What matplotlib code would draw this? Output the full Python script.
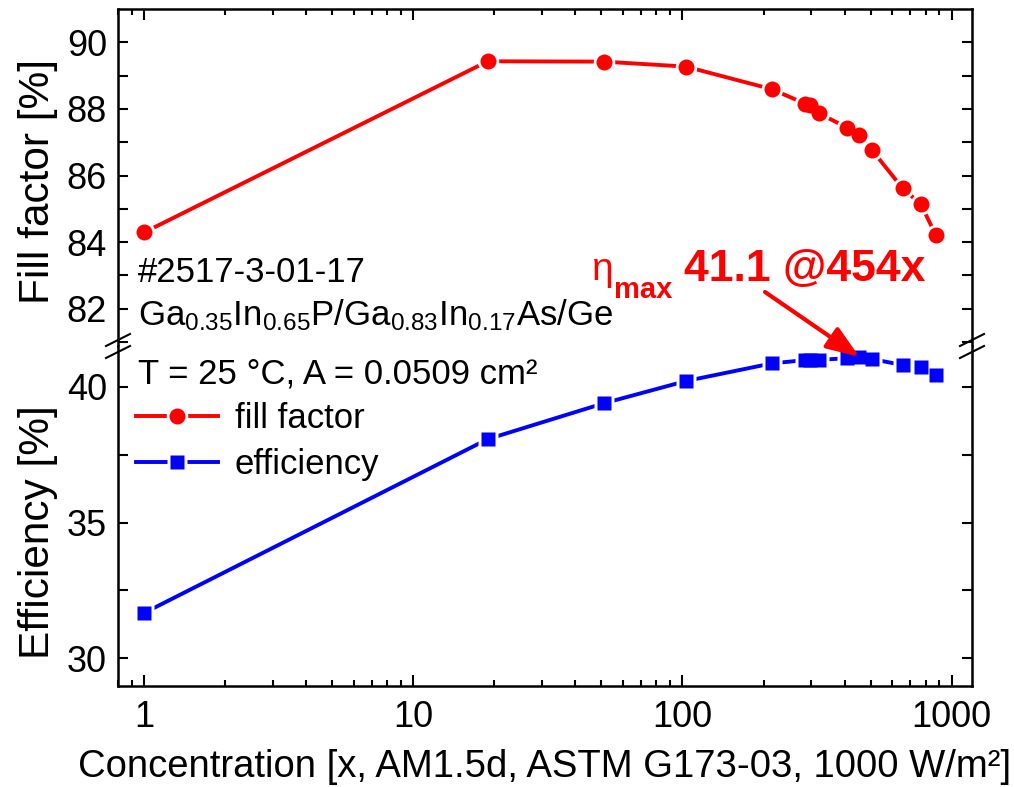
import matplotlib
matplotlib.use('Agg')
import matplotlib.pyplot as plt
from matplotlib.lines import Line2D
from matplotlib.legend_handler import HandlerTuple
from matplotlib.ticker import FixedLocator, NullFormatter, LogLocator

# ---------------- data ----------------
concentration = [1, 18.9, 51, 103, 215, 285, 297, 321, 408, 454, 505, 658, 768, 873]
fill_factor = [84.29, 89.43, 89.42, 89.27, 88.59, 88.16, 88.12, 87.87, 87.44,
               87.22, 86.77, 85.61, 85.14, 84.21]
efficiency = [31.67, 38.07, 39.39, 40.21, 40.86, 40.98, 40.99, 40.99, 41.05,
              41.10, 41.02, 40.80, 40.71, 40.43]
x_ticks = [1, 10, 100, 1000]
x_ticklabels = ["1", "10", "100", "1000"]
ff_ticks = [82, 84, 86, 88, 90]
eff_ticks = [30, 35, 40]
eta_max_conc = 454
eta_max_val = 41.1

RED = '#FF0000'
BLUE = '#0000FF'

plt.rcParams['font.family'] = ['Liberation Sans', 'DejaVu Sans']
plt.rcParams['mathtext.fontset'] = 'custom'
plt.rcParams['mathtext.rm'] = 'Liberation Sans'
plt.rcParams['mathtext.it'] = 'Liberation Sans:italic'
plt.rcParams['mathtext.bf'] = 'Liberation Sans:bold'

W, H = 1014, 787
fig = plt.figure(figsize=(W / 100, H / 100), dpi=100)

L, R = 118, 972
TOP, JUNC, BOT = 9, 346, 686

ax1 = fig.add_axes([L / W, 1 - JUNC / H, (R - L) / W, (JUNC - TOP) / H])
ax2 = fig.add_axes([L / W, 1 - BOT / H, (R - L) / W, (BOT - JUNC) / H], sharex=ax1)

FS = 25
LW = 2.8

# fill factor
l1, = ax1.plot(concentration, fill_factor, '-', color=RED, lw=LW, zorder=2)
h1, = ax1.plot(concentration, fill_factor, 'o', ls='none', ms=15.5, color='white', mec='none', zorder=3)
m1, = ax1.plot(concentration, fill_factor, 'o', ls='none', ms=11.5, color=RED, mec='none', zorder=4)

# efficiency
l2, = ax2.plot(concentration, efficiency, '-', color=BLUE, lw=LW, zorder=2)
h2, = ax2.plot(concentration, efficiency, 's', ls='none', ms=14.5, color='white', mec='none', zorder=3)
m2, = ax2.plot(concentration, efficiency, 's', ls='none', ms=10.5, color=BLUE, mec='none', zorder=4)

ax1.set_xscale('log')
ax1.set_xlim(0.80, 1190)
ax1.set_ylim(80.88, 91.0)
ax2.set_ylim(28.98, 41.50)

for ax in (ax1, ax2):
    for s in ax.spines.values():
        s.set_linewidth(1.8)
    ax.xaxis.set_major_locator(FixedLocator(x_ticks))
    ax.xaxis.set_minor_locator(LogLocator(base=10, subs=range(2, 10)))
    ax.xaxis.set_minor_formatter(NullFormatter())
    ax.tick_params(which='both', direction='in', width=1.5, labelsize=26)
    ax.tick_params(axis='x', which='major', length=8)
    ax.tick_params(axis='x', which='minor', length=4.5)
    ax.tick_params(axis='y', which='both', length=7, pad=8)

ax1.spines['bottom'].set_visible(False)
ax2.spines['top'].set_visible(False)
ax1.tick_params(axis='x', which='both', bottom=False, top=True, labelbottom=False, labeltop=False)
ax2.tick_params(axis='x', which='both', bottom=True, top=False, labelbottom=True, pad=10)
ax1.tick_params(axis='y', which='both', left=True, right=True)
ax2.tick_params(axis='y', which='both', left=True, right=True)

ax2.set_xticklabels(x_ticklabels)
ax1.set_yticks(ff_ticks)
ax1.yaxis.set_minor_locator(FixedLocator([81, 83, 85, 87, 89]))
ax2.set_yticks(eff_ticks)
ax2.yaxis.set_minor_locator(FixedLocator([32.5, 37.5]))

ax2.set_xlabel('Concentration [x, AM1.5d, ASTM G173-03, 1000 W/m²]', fontsize=27.5, labelpad=10)

fig.text(38 / W, 1 - 181 / H, 'Fill factor [%]', rotation=90, ha='center', va='center', fontsize=30.5)
fig.text(38 / W, 1 - 532 / H, 'Efficiency [%]', rotation=90, ha='center', va='center', fontsize=30.5)

# break marks
for xs in (L, R):
    for ys in (340, 352):
        fig.add_artist(Line2D([(xs - 12) / W, (xs + 12) / W],
                              [1 - (ys + 6) / H, 1 - (ys - 6) / H],
                              color='black', lw=1.5))

# texts
fig.text(138 / W, 1 - 282 / H, '#2517-3-01-17', fontsize=FS, va='baseline', ha='left')
fig.text(138 / W, 1 - 325 / H, r'Ga$_{0.35}$In$_{0.65}$P/Ga$_{0.83}$In$_{0.17}$As/Ge',
         fontsize=FS, va='baseline', ha='left')
fig.text(138 / W, 1 - 384 / H, 'T = 25 °C, A = 0.0509 cm²', fontsize=FS, va='baseline', ha='left')

fig.text(592 / W, 1 - 280 / H, 'η', fontsize=28, color=RED, va='baseline', ha='left')
fig.text(614 / W, 1 - 298 / H, 'max', fontsize=21, color=RED, fontweight='bold', va='baseline', ha='left')
fig.text(684 / W, 1 - 281 / H, '41.1 @454x', fontsize=32, color=RED, fontweight='bold',
         va='baseline', ha='left')

ax2.annotate('', xy=(eta_max_conc, eta_max_val), xycoords='data',
             xytext=(765 / W, 1 - 292 / H), textcoords='figure fraction',
             arrowprops=dict(arrowstyle='-|>,head_length=0.8,head_width=0.3',
                             color=RED, lw=3, mutation_scale=25, shrinkA=0, shrinkB=0),
             annotation_clip=False, zorder=6)

# legend
leg = ax2.legend([(l1, h1, m1), (l2, h2, m2)], ['fill factor', 'efficiency'],
                 handler_map={tuple: HandlerTuple(ndivide=1)},
                 loc='upper left', bbox_to_anchor=(136 / W, 1 - 402 / H),
                 bbox_transform=fig.transFigure, frameon=False, fontsize=FS,
                 handlelength=2.35, handletextpad=0.5, labelspacing=0.38,
                 borderpad=0, borderaxespad=0, numpoints=1)

fig.savefig('out.png', dpi=100)
